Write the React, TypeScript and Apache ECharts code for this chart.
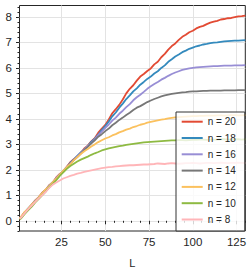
import React, { useEffect, useRef } from "react";
import * as echarts from "echarts";

// subsystem size L (sample points)
const L = [1, 2, 4, 6, 8, 10, 12, 14, 16, 18, 20, 22, 24, 26, 28, 30, 32, 34, 36, 38, 40, 42, 44, 46, 48, 50, 52, 54, 56, 58, 60, 62, 64, 66, 68, 70, 72, 74, 76, 78, 80, 82, 84, 86, 88, 90, 92, 94, 96, 98, 100, 102, 104, 106, 108, 110, 112, 114, 116, 118, 120, 122, 124, 126, 128, 130];

const n20 = [0.10, 0.15, 0.34, 0.47, 0.64, 0.80, 0.93, 1.10, 1.22, 1.40, 1.50, 1.70, 1.84, 1.95, 2.12, 2.30, 2.42, 2.52, 2.66, 2.84, 2.95, 3.12, 3.24, 3.46, 3.62, 3.76, 3.98, 4.22, 4.38, 4.55, 4.76, 5.00, 5.18, 5.32, 5.50, 5.66, 5.76, 5.88, 5.98, 6.14, 6.24, 6.42, 6.55, 6.72, 6.86, 6.96, 7.10, 7.22, 7.30, 7.40, 7.46, 7.55, 7.61, 7.65, 7.72, 7.78, 7.82, 7.85, 7.90, 7.92, 7.95, 7.96, 7.99, 8.02, 8.03, 8.05];
const n18 = [0.09, 0.14, 0.32, 0.49, 0.62, 0.78, 0.91, 1.08, 1.20, 1.38, 1.52, 1.64, 1.80, 1.97, 2.10, 2.27, 2.40, 2.55, 2.68, 2.79, 2.93, 3.10, 3.22, 3.38, 3.56, 3.72, 3.90, 4.10, 4.25, 4.44, 4.60, 4.78, 4.92, 5.08, 5.20, 5.34, 5.45, 5.57, 5.66, 5.78, 5.87, 6.00, 6.10, 6.24, 6.34, 6.45, 6.53, 6.62, 6.68, 6.75, 6.80, 6.85, 6.88, 6.92, 6.94, 6.97, 6.99, 7.00, 7.02, 7.04, 7.05, 7.06, 7.07, 7.07, 7.08, 7.09];
const n16 = [0.10, 0.16, 0.33, 0.48, 0.63, 0.79, 0.92, 1.06, 1.21, 1.37, 1.49, 1.68, 1.82, 1.96, 2.11, 2.24, 2.39, 2.54, 2.67, 2.80, 2.94, 3.05, 3.20, 3.36, 3.50, 3.65, 3.78, 3.93, 4.05, 4.20, 4.32, 4.46, 4.58, 4.73, 4.85, 4.95, 5.06, 5.18, 5.28, 5.37, 5.45, 5.54, 5.61, 5.69, 5.76, 5.82, 5.87, 5.92, 5.95, 5.98, 6.00, 6.02, 6.03, 6.04, 6.05, 6.06, 6.07, 6.07, 6.08, 6.09, 6.09, 6.09, 6.10, 6.10, 6.10, 6.11];
const n14 = [0.08, 0.14, 0.33, 0.46, 0.61, 0.77, 0.90, 1.07, 1.19, 1.33, 1.50, 1.63, 1.79, 1.93, 2.09, 2.22, 2.38, 2.50, 2.64, 2.78, 2.90, 3.04, 3.16, 3.30, 3.40, 3.52, 3.62, 3.75, 3.85, 3.96, 4.05, 4.15, 4.24, 4.35, 4.44, 4.50, 4.58, 4.66, 4.72, 4.78, 4.83, 4.88, 4.92, 4.95, 4.98, 5.00, 5.02, 5.04, 5.05, 5.07, 5.08, 5.08, 5.09, 5.10, 5.10, 5.11, 5.11, 5.11, 5.11, 5.12, 5.12, 5.12, 5.12, 5.13, 5.13, 5.13];
const n12 = [0.10, 0.17, 0.35, 0.48, 0.64, 0.77, 0.92, 1.09, 1.23, 1.36, 1.52, 1.65, 1.81, 1.97, 2.10, 2.22, 2.37, 2.50, 2.62, 2.73, 2.82, 2.92, 3.00, 3.09, 3.16, 3.23, 3.28, 3.35, 3.40, 3.47, 3.52, 3.58, 3.62, 3.68, 3.72, 3.77, 3.80, 3.85, 3.88, 3.91, 3.94, 3.97, 3.99, 4.02, 4.04, 4.06, 4.07, 4.08, 4.09, 4.10, 4.11, 4.11, 4.12, 4.12, 4.13, 4.13, 4.13, 4.14, 4.14, 4.13, 4.14, 4.15, 4.15, 4.14, 4.14, 4.15];
const n10 = [0.05, 0.10, 0.27, 0.42, 0.56, 0.72, 0.86, 1.01, 1.15, 1.31, 1.45, 1.60, 1.76, 1.90, 2.04, 2.15, 2.24, 2.33, 2.40, 2.46, 2.52, 2.59, 2.65, 2.70, 2.76, 2.80, 2.84, 2.87, 2.90, 2.93, 2.95, 2.98, 3.00, 3.02, 3.04, 3.06, 3.08, 3.09, 3.10, 3.11, 3.12, 3.13, 3.14, 3.15, 3.16, 3.16, 3.17, 3.17, 3.16, 3.17, 3.18, 3.18, 3.19, 3.19, 3.18, 3.19, 3.19, 3.19, 3.20, 3.20, 3.19, 3.19, 3.20, 3.20, 3.19, 3.20];
const n8 = [0.08, 0.13, 0.30, 0.46, 0.60, 0.74, 0.88, 1.01, 1.14, 1.29, 1.42, 1.50, 1.58, 1.66, 1.71, 1.76, 1.80, 1.85, 1.88, 1.92, 1.95, 1.98, 2.01, 2.04, 2.07, 2.09, 2.11, 2.12, 2.14, 2.15, 2.16, 2.17, 2.18, 2.18, 2.19, 2.20, 2.21, 2.21, 2.22, 2.23, 2.25, 2.24, 2.23, 2.25, 2.26, 2.25, 2.24, 2.25, 2.26, 2.26, 2.27, 2.26, 2.25, 2.26, 2.27, 2.27, 2.26, 2.27, 2.28, 2.27, 2.26, 2.27, 2.27, 2.28, 2.27, 2.26];

const seriesNames = ["n = 20", "n = 18", "n = 16", "n = 14", "n = 12", "n = 10", "n = 8"];
const seriesValues = [n20, n18, n16, n14, n12, n10, n8];
const colors = ["#E24A33", "#348ABD", "#988ED5", "#777777", "#FBC15E", "#8EBA42", "#FFB5B8"];

const xMajorTicks = [25, 50, 75, 100, 125];
const xMinorTicks = [5, 10, 15, 20, 30, 35, 40, 45, 55, 60, 65, 70, 80, 85, 90, 95, 105, 110, 115, 120, 130];
const yMajorTicks = [0, 1, 2, 3, 4, 5, 6, 7, 8];
const yMinorTicks: number[] = [];
for (let k = -2; k <= 42; k++) {
  if (k % 5 !== 0) yMinorTicks.push(Math.round(k * 20) / 100);
}

const FONT = "'Liberation Sans', Arial, Helvetica, sans-serif";
const INK = "#262626";

export default function App() {
  const ref = useRef<HTMLDivElement>(null);
  useEffect(() => {
    if (!ref.current) return;
    const chart = echarts.init(ref.current, undefined, { renderer: "svg" });
    const option: any = {
      animation: false,
      backgroundColor: "#ffffff",
      grid: {
        left: 19.5,
        right: 6.7,
        top: 5.5,
        bottom: 41.5,
        show: true,
        borderColor: INK,
        borderWidth: 1,
        backgroundColor: "transparent",
      },
      xAxis: [
        {
          type: "value",
          min: 1,
          max: 130,
          position: "bottom",
          axisLine: { show: false },
          axisTick: { show: true, customValues: xMajorTicks, length: 3.5, lineStyle: { color: INK, width: 1 } },
          axisLabel: { customValues: xMajorTicks, margin: 5, fontSize: 11.5, color: INK, fontFamily: FONT },
          splitLine: { show: true, lineStyle: { color: "#e3e3e3", width: 1 } },
          name: "L",
          nameLocation: "middle",
          nameGap: 26,
          nameTextStyle: { fontSize: 11, color: INK, fontFamily: FONT },
        },
        {
          type: "value",
          min: 1,
          max: 130,
          position: "bottom",
          axisLine: { show: false },
          axisTick: { show: true, customValues: xMinorTicks, length: 2, lineStyle: { color: INK, width: 1 } },
          axisLabel: { show: false },
          splitLine: { show: false },
        },
      ],
      yAxis: [
        {
          type: "value",
          min: -0.4,
          max: 8.45,
          position: "left",
          axisLine: { show: false },
          axisTick: { show: true, customValues: yMajorTicks, length: 3.5, lineStyle: { color: INK, width: 1 } },
          axisLabel: { customValues: yMajorTicks, margin: 7.5, fontSize: 11.5, color: INK, fontFamily: FONT },
          splitLine: { show: true, lineStyle: { color: "#e3e3e3", width: 1 } },
        },
        {
          type: "value",
          min: -0.4,
          max: 8.45,
          position: "left",
          axisLine: { show: false },
          axisTick: { show: true, customValues: yMinorTicks, length: 2, lineStyle: { color: INK, width: 1 } },
          axisLabel: { show: false },
          splitLine: { show: false },
        },
      ],
      legend: {
        orient: "vertical",
        left: 176,
        top: 112,
        icon: "rect",
        itemWidth: 21,
        itemHeight: 2,
        itemGap: 2.3,
        padding: [2.7, 9, 4.5, 5.7],
        backgroundColor: "rgba(255,255,255,0.8)",
        borderColor: "#333333",
        borderWidth: 1,
        textStyle: { fontSize: 10, color: INK, fontFamily: FONT, lineHeight: 14 },
        data: seriesNames,
      },
      series: seriesNames.map((name, s) => ({
        type: "line",
        name,
        xAxisIndex: 0,
        yAxisIndex: 0,
        data: L.map((x, i) => [x, seriesValues[s][i]]),
        showSymbol: false,
        symbol: "none",
        lineStyle: { width: 1.8, color: colors[s] },
        itemStyle: { color: colors[s] },
      })),
    };
    chart.setOption(option);
    return () => chart.dispose();
  }, []);
  return (
    <div
      ref={ref}
      style={{ position: "fixed", left: 0, top: 0, width: 252, height: 273, background: "#fff" }}
    />
  );
}
